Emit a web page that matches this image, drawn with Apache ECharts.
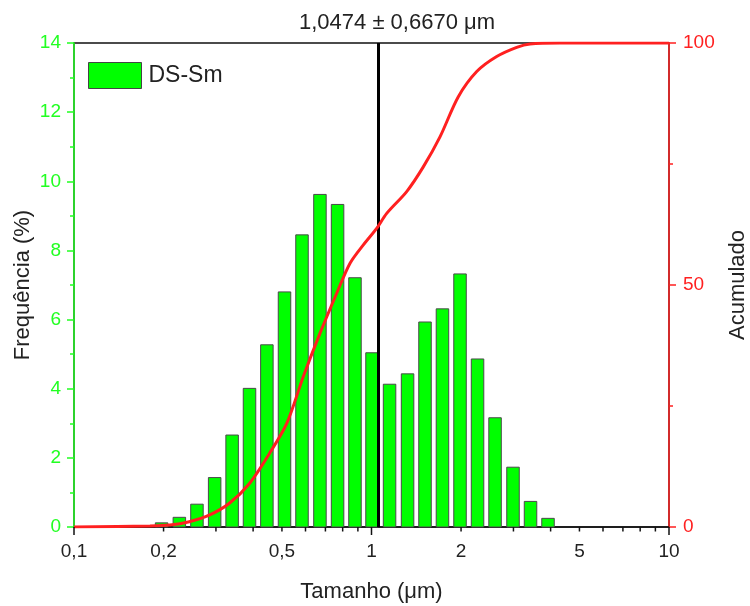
<!DOCTYPE html>
<html>
<head>
<meta charset="utf-8">
<script src="https://cdn.jsdelivr.net/npm/echarts@6/dist/echarts.min.js"></script>
<style>
  html, body { margin: 0; padding: 0; background: #fff; }
  #chart { width: 750px; height: 606px; }
</style>
</head>
<body>
<div id="chart"></div>
<script>
// Particle size classes (µm, bin centres) and their frequency (%)
const sizes = [0.197, 0.226, 0.259, 0.297, 0.340, 0.389, 0.445, 0.510, 0.584, 0.671, 0.769, 0.880,
               1.004, 1.150, 1.322, 1.513, 1.732, 1.984, 2.272, 2.602, 2.990, 3.424, 3.920];
const freq = [0.12, 0.28, 0.66, 1.43, 2.66, 4.01, 5.27, 6.80, 8.45, 9.62, 9.33, 7.21,
              5.04, 4.13, 4.43, 5.93, 6.31, 7.32, 4.86, 3.16, 1.73, 0.74, 0.25];

// Cumulative distribution (%)
const cumX = [0.1, 0.180, 0.210, 0.244, 0.286, 0.333, 0.389, 0.454, 0.519, 0.590, 0.671, 0.764,
              0.847, 0.939, 1.041, 1.125, 1.313, 1.493, 1.699, 1.958, 2.258, 2.635, 3.077, 3.411, 4.30, 10];
const cumY = [0, 0.2, 0.4, 1.1, 2.5, 4.9, 9.0, 15.2, 21.4, 31.1, 40.0, 48.3,
              54.5, 58.3, 61.7, 64.8, 69.3, 74.4, 80.6, 88.9, 94.1, 97.2, 99.1, 99.8, 100, 100];

// Mean size marker and heading
const meanSize = 1.0474;
const titleText = '1,0474 ± 0,6670 μm';

// Log x-axis ticks and labels
const xTickValues = [0.1, 0.2, 0.5, 1, 2, 5, 10];
const xTickLabels = ['0,1', '0,2', '0,5', '1', '2', '5', '10'];
const xMajorTicks = [0.1, 1, 10];
const xMinorTicks = [0.2, 0.3, 0.4, 0.5, 0.6, 0.7, 0.8, 0.9, 2, 3, 4, 5, 6, 7, 8, 9];

const GREEN = '#22ff22';
const BAR_GREEN = '#00ff00';
const RED = '#ff2020';
const FONT = 'Liberation Sans, Arial, sans-serif';

const chart = echarts.init(document.getElementById('chart'), null, { renderer: 'canvas' });

const BAR_W = 12.5;

const option = {
  backgroundColor: '#fff',
  animation: false,
  textStyle: { fontFamily: FONT },
  title: {
    text: titleText,
    left: 294,
    top: 7,
    textStyle: { fontFamily: FONT, fontSize: 22, fontWeight: 'normal', color: '#222' }
  },
  legend: {
    left: 88,
    top: 62,
    padding: 0,
    itemWidth: 53,
    itemHeight: 26,
    icon: 'rect',
    data: [{ name: 'DS-Sm', itemStyle: { color: BAR_GREEN, borderColor: '#444', borderWidth: 1 } }],
    textStyle: { fontFamily: FONT, fontSize: 23, color: '#222', padding: [0, 0, 0, 2] }
  },
  grid: {
    left: 74, right: 81, top: 43, bottom: 79,
    outerBoundsMode: 'none',
    containLabel: false,
    show: true, borderColor: '#111', borderWidth: 1.5, backgroundColor: 'transparent'
  },
  xAxis: {
    type: 'log',
    logBase: 10,
    min: 0.1,
    max: 10,
    axisLine: { lineStyle: { color: '#111', width: 1.5 } },
    axisTick: { show: false },
    axisLabel: { show: false },
    splitLine: { show: false },
    name: 'Tamanho (μm)',
    nameLocation: 'middle',
    nameGap: 54,
    nameTextStyle: { fontFamily: FONT, fontSize: 22, color: '#222' }
  },
  yAxis: [
    {
      type: 'value',
      min: 0, max: 14, interval: 2,
      position: 'left',
      axisLine: { show: true, lineStyle: { color: GREEN, width: 1.5 } },
      axisTick: { show: true, length: 7, lineStyle: { color: GREEN, width: 1.5 } },
      minorTick: { show: true, splitNumber: 2, length: 4, lineStyle: { color: GREEN, width: 1.5 } },
      axisLabel: { color: GREEN, fontSize: 19, margin: 13, fontFamily: FONT },
      splitLine: { show: false },
      name: 'Frequência (%)',
      nameLocation: 'middle',
      nameRotate: 90,
      nameGap: 40,
      nameMoveOverlap: false,
      nameTextStyle: { fontFamily: FONT, fontSize: 22, color: '#222' }
    },
    {
      type: 'value',
      min: 0, max: 100, interval: 50,
      position: 'right',
      axisLine: { show: true, lineStyle: { color: RED, width: 1.5 } },
      axisTick: { show: true, length: 7, lineStyle: { color: RED, width: 1.5 } },
      minorTick: { show: true, splitNumber: 2, length: 4, lineStyle: { color: RED, width: 1.5 } },
      axisLabel: { color: RED, fontSize: 19, margin: 14, fontFamily: FONT },
      splitLine: { show: false },
      name: 'Acumulado',
      nameLocation: 'middle',
      nameRotate: 90,
      nameGap: 58,
      nameTextStyle: { fontFamily: FONT, fontSize: 22, color: '#222' }
    }
  ],
  series: [
    {
      name: 'DS-Sm',
      type: 'custom',
      xAxisIndex: 0,
      yAxisIndex: 0,
      itemStyle: { color: BAR_GREEN, borderColor: '#444', borderWidth: 1 },
      data: sizes.map((s, i) => [s, freq[i]]),
      encode: { x: 0, y: 1 },
      renderItem: function (params, api) {
        const top = api.coord([api.value(0), api.value(1)]);
        const base = api.coord([api.value(0), 0]);
        return {
          type: 'rect',
          shape: { x: top[0] - BAR_W / 2, y: top[1], width: BAR_W, height: base[1] - top[1] },
          style: { fill: BAR_GREEN, stroke: '#4a4a4a', lineWidth: 1 }
        };
      },
      z: 2
    },
    {
      name: 'Acumulado',
      type: 'line',
      xAxisIndex: 0,
      yAxisIndex: 1,
      data: cumX.map((x, i) => [x, cumY[i]]),
      smooth: 0.3,
      symbol: 'none',
      lineStyle: { color: RED, width: 3 },
      itemStyle: { color: RED },
      z: 4,
      markLine: {
        silent: true,
        symbol: 'none',
        label: { show: false },
        lineStyle: { color: '#000', width: 3, type: 'solid' },
        data: [{ xAxis: meanSize }],
        z: 3
      }
    },
    {
      name: 'xticks',
      type: 'custom',
      xAxisIndex: 0,
      yAxisIndex: 0,
      silent: true,
      data: xMajorTicks.map(v => [v, 0, 8]).concat(xMinorTicks.map(v => [v, 0, 4.5])),
      encode: { x: 0, y: 1 },
      renderItem: function (params, api) {
        const p = api.coord([api.value(0), 0]);
        return {
          type: 'line',
          shape: { x1: p[0], y1: p[1], x2: p[0], y2: p[1] + api.value(2) },
          style: { stroke: '#111', lineWidth: 1.5 }
        };
      },
      z: 5
    },
    {
      name: 'xlabels',
      type: 'custom',
      xAxisIndex: 0,
      yAxisIndex: 0,
      silent: true,
      data: xTickValues.map((v, i) => [v, 0, i]),
      encode: { x: 0, y: 1 },
      renderItem: function (params, api) {
        const p = api.coord([api.value(0), 0]);
        return {
          type: 'text',
          x: p[0],
          y: p[1] + 15,
          style: {
            text: xTickLabels[api.value(2)],
            fill: '#222',
            font: '19px ' + FONT,
            align: 'center',
            verticalAlign: 'top'
          }
        };
      },
      z: 5
    }
  ]
};

chart.setOption(option);
</script>
</body>
</html>
